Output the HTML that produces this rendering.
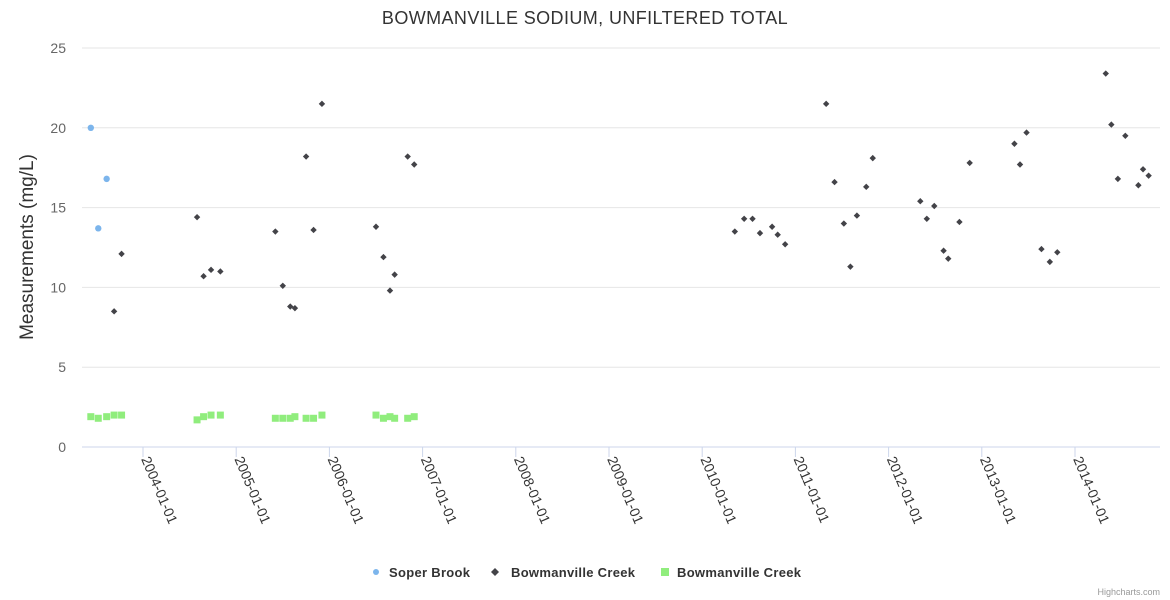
<!DOCTYPE html>
<html><head><meta charset="utf-8"><style>
html,body{margin:0;padding:0;background:#fff;}
svg{display:block;font-family:"Liberation Sans",sans-serif;}
</style></head><body>
<svg id="chart" width="1170" height="600">
<text x="585" y="24" text-anchor="middle" font-size="18" letter-spacing="0.4" fill="#333">BOWMANVILLE SODIUM, UNFILTERED TOTAL</text>
<text transform="translate(33,247) rotate(-90)" text-anchor="middle" font-size="19" fill="#333">Measurements (mg/L)</text>
<g id="grid"></g><g id="xaxis"></g><g id="marks"></g>
<g>
<g><circle cx="376" cy="572" r="3" fill="#7cb5ec"/><text x="389" y="577" font-size="13" letter-spacing="0.3" font-weight="bold" fill="#333">Soper Brook</text></g>
<g><path d="M495 568 L499 572 L495 576 L491 572Z" fill="#434348"/><text x="511" y="577" font-size="13" letter-spacing="0.3" font-weight="bold" fill="#333">Bowmanville Creek</text></g>
<g><rect x="661" y="568" width="8" height="8" fill="#90ed7d"/><text x="677" y="577" font-size="13" letter-spacing="0.3" font-weight="bold" fill="#333">Bowmanville Creek</text></g>
</g>
<text x="1160" y="595" text-anchor="end" font-size="9" fill="#999">Highcharts.com</text>
</svg>
<script>
const yTicks=[0,5,10,15,20,25];
const xTickYears=[2004,2005,2006,2007,2008,2009,2010,2011,2012,2013,2014];
const soperDates=[2003.44,2003.52,2003.61];
const soperValues=[20.0,13.7,16.8];
const creekDates=[2003.69,2003.77,2004.58,2004.65,2004.73,2004.83,2005.42,2005.50,2005.58,2005.63,2005.75,2005.83,2005.92,2006.50,2006.58,2006.65,2006.70,2006.84,2006.91,2010.35,2010.45,2010.54,2010.62,2010.75,2010.81,2010.89,2011.33,2011.42,2011.52,2011.59,2011.66,2011.76,2011.83,2012.34,2012.41,2012.49,2012.59,2012.64,2012.76,2012.87,2013.35,2013.41,2013.48,2013.64,2013.73,2013.81,2014.33,2014.39,2014.46,2014.54,2014.68,2014.73,2014.79];
const creekValues=[8.5,12.1,14.4,10.7,11.1,11.0,13.5,10.1,8.8,8.7,18.2,13.6,21.5,13.8,11.9,9.8,10.8,18.2,17.7,13.5,14.3,14.3,13.4,13.8,13.3,12.7,21.5,16.6,14.0,11.3,14.5,16.3,18.1,15.4,14.3,15.1,12.3,11.8,14.1,17.8,19.0,17.7,19.7,12.4,11.6,12.2,23.4,20.2,16.8,19.5,16.4,17.4,17.0];
const creek2Dates=[2003.44,2003.52,2003.61,2003.69,2003.77,2004.58,2004.65,2004.73,2004.83,2005.42,2005.50,2005.58,2005.63,2005.75,2005.83,2005.92,2006.50,2006.58,2006.65,2006.70,2006.84,2006.91];
const creek2Values=[1.9,1.8,1.9,2.0,2.0,1.7,1.9,2.0,2.0,1.8,1.8,1.8,1.9,1.8,1.8,2.0,2.0,1.8,1.9,1.8,1.8,1.9];
const NS="http://www.w3.org/2000/svg";
const L=82,R=1160,T=48,B=447;
function xs(d){return 143+(d-2004)*93.2;}
function ys(v){return B-(v/25)*(B-T);}
function mk(t,a,p){const e=document.createElementNS(NS,t);for(const k in a)e.setAttribute(k,a[k]);p.appendChild(e);return e;}
const grid=document.getElementById('grid'),xa=document.getElementById('xaxis'),marks=document.getElementById('marks');
yTicks.forEach(v=>{
 const l=mk('line',{x1:L,x2:R,y1:ys(v),y2:ys(v),stroke:v===0?'#ccd6eb':'#e6e6e6','stroke-width':1},grid);
 
 
 const t=mk('text',{x:66,y:ys(v)+5,'text-anchor':'end','font-size':14,fill:'#666'},grid);t.textContent=v;
 
 
});
xTickYears.forEach(y=>{
 const x=xs(y);
 const tk=mk('line',{x1:x,x2:x,y1:B,y2:B+10,stroke:'#ccd6eb'},xa);
 
 
 const t=mk('text',{transform:`translate(${x-2},${B+12}) rotate(67)`,'font-size':14,fill:'#333'},xa);
 t.textContent=y+'-01-01';
 
 
});
soperDates.forEach((d,i)=>{
 const c=mk('circle',{cx:xs(d),cy:ys(soperValues[i]),r:3.2,fill:'#7cb5ec'},marks);
 
 
});
creekDates.forEach((d,i)=>{
 const x=xs(d),y=ys(creekValues[i]);
 const p=mk('path',{d:`M${x} ${y-3.2}L${x+3.2} ${y}L${x} ${y+3.2}L${x-3.2} ${y}Z`,fill:'#434348'},marks);
 
 
});
creek2Dates.forEach((d,i)=>{
 const r=mk('rect',{x:xs(d)-3.5,y:ys(creek2Values[i])-3.5,width:7,height:7,fill:'#90ed7d'},marks);
 
 
});
</script>
</body></html>
